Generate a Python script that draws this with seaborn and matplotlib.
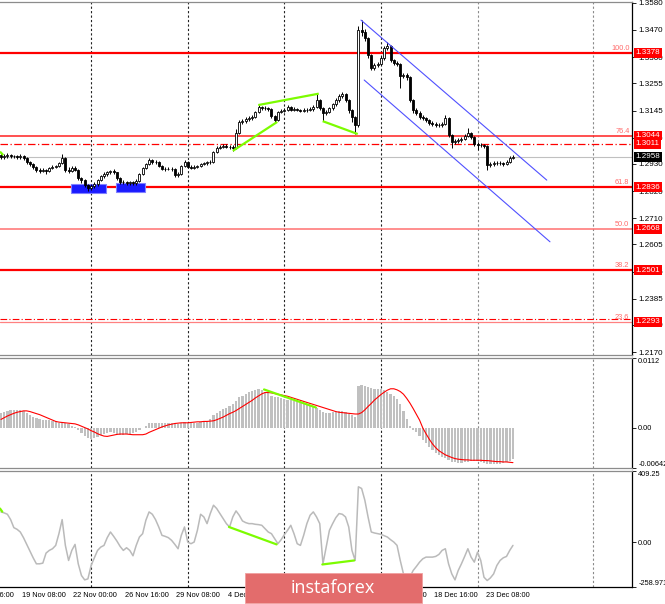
import numpy as np
import seaborn as sns
import matplotlib.pyplot as plt
from matplotlib.patches import Rectangle
import matplotlib.transforms as mtransforms

# ---- values (H4 bars, index 0 = first visible bar) ----
first_open = 1.2965
closes = [
    1.2957, 1.2961, 1.2965, 1.2961, 1.2961, 1.2957, 1.2961, 1.2953, 1.2937, 1.2929,
    1.2917, 1.2905, 1.2901, 1.2905, 1.2901, 1.2913, 1.2917, 1.2921, 1.2933, 1.2953,
    1.2905, 1.2901, 1.2913, 1.2905, 1.2872, 1.2864, 1.2844, 1.2832, 1.2840, 1.2848,
    1.2864, 1.2880, 1.2888, 1.2896, 1.2901, 1.2896, 1.2872, 1.2856, 1.2856, 1.2852,
    1.2856, 1.2852, 1.2860, 1.2888, 1.2913, 1.2929, 1.2945, 1.2937, 1.2937, 1.2921,
    1.2909, 1.2909, 1.2909, 1.2909, 1.2884, 1.2888, 1.2921, 1.2937, 1.2917, 1.2913,
    1.2917, 1.2921, 1.2929, 1.2933, 1.2937, 1.2937, 1.2977, 1.2994, 1.2998, 1.3002,
    1.2998, 1.2998, 1.2994, 1.3054, 1.3098, 1.3102, 1.3110, 1.3114, 1.3119, 1.3139,
    1.3159, 1.3155, 1.3155, 1.3151, 1.3123, 1.3106, 1.3139, 1.3143, 1.3147, 1.3159,
    1.3147, 1.3151, 1.3147, 1.3143, 1.3147, 1.3147, 1.3151, 1.3159, 1.3187, 1.3155,
    1.3135, 1.3139, 1.3155, 1.3171, 1.3187, 1.3203, 1.3211, 1.3187, 1.3147, 1.3119,
    1.3086, 1.3470, 1.3462, 1.3437, 1.3369, 1.3316, 1.3328, 1.3332, 1.3357, 1.3397,
    1.3405, 1.3349, 1.3336, 1.3332, 1.3284, 1.3288, 1.3280, 1.3187, 1.3147, 1.3135,
    1.3119, 1.3114, 1.3106, 1.3094, 1.3090, 1.3086, 1.3086, 1.3090, 1.3114, 1.3046,
    1.3018, 1.3022, 1.3026, 1.3030, 1.3042, 1.3054, 1.3038, 1.3010, 1.3006, 1.3006,
    1.3002, 1.2925, 1.2929, 1.2933, 1.2933, 1.2933, 1.2929, 1.2937, 1.2953, 1.2957]
highs = [
    1.2977, 1.2969, 1.2973, 1.2971, 1.2967, 1.2965, 1.2969, 1.2965, 1.2957, 1.2941,
    1.2933, 1.2921, 1.2911, 1.2913, 1.2909, 1.2917, 1.2923, 1.2927, 1.2939, 1.2969,
    1.2957, 1.2915, 1.2919, 1.2919, 1.2909, 1.2878, 1.2868, 1.2850, 1.2848, 1.2856,
    1.2870, 1.2886, 1.2896, 1.2901, 1.2905, 1.2907, 1.2898, 1.2876, 1.2864, 1.2860,
    1.2862, 1.2860, 1.2868, 1.2892, 1.2917, 1.2935, 1.2953, 1.2949, 1.2945, 1.2941,
    1.2925, 1.2915, 1.2915, 1.2915, 1.2913, 1.2896, 1.2925, 1.2945, 1.2941, 1.2923,
    1.2923, 1.2927, 1.2933, 1.2939, 1.2943, 1.2945, 1.2981, 1.3002, 1.3006, 1.3010,
    1.3008, 1.3006, 1.3004, 1.3070, 1.3106, 1.3110, 1.3118, 1.3122, 1.3127, 1.3145,
    1.3167, 1.3163, 1.3163, 1.3161, 1.3155, 1.3127, 1.3143, 1.3151, 1.3155, 1.3167,
    1.3163, 1.3159, 1.3157, 1.3153, 1.3155, 1.3155, 1.3159, 1.3167, 1.3211, 1.3191,
    1.3159, 1.3147, 1.3161, 1.3177, 1.3195, 1.3211, 1.3219, 1.3215, 1.3191, 1.3151,
    1.3123, 1.3486, 1.3510, 1.3474, 1.3441, 1.3373, 1.3336, 1.3340, 1.3365, 1.3405,
    1.3421, 1.3409, 1.3353, 1.3344, 1.3336, 1.3296, 1.3296, 1.3284, 1.3191, 1.3155,
    1.3143, 1.3127, 1.3119, 1.3110, 1.3102, 1.3098, 1.3094, 1.3098, 1.3127, 1.3118,
    1.3050, 1.3030, 1.3034, 1.3038, 1.3050, 1.3074, 1.3058, 1.3042, 1.3018, 1.3014,
    1.3010, 1.3006, 1.2937, 1.2941, 1.2941, 1.2941, 1.2937, 1.2945, 1.2961, 1.2965]
lows = [
    1.2949, 1.2949, 1.2955, 1.2955, 1.2953, 1.2949, 1.2951, 1.2945, 1.2929, 1.2921,
    1.2909, 1.2897, 1.2893, 1.2895, 1.2889, 1.2897, 1.2907, 1.2911, 1.2915, 1.2929,
    1.2897, 1.2893, 1.2895, 1.2899, 1.2866, 1.2852, 1.2836, 1.2822, 1.2826, 1.2834,
    1.2842, 1.2860, 1.2874, 1.2882, 1.2890, 1.2888, 1.2866, 1.2850, 1.2848, 1.2844,
    1.2846, 1.2844, 1.2846, 1.2856, 1.2884, 1.2907, 1.2925, 1.2931, 1.2929, 1.2915,
    1.2903, 1.2901, 1.2903, 1.2901, 1.2878, 1.2878, 1.2884, 1.2917, 1.2911, 1.2907,
    1.2909, 1.2911, 1.2915, 1.2923, 1.2927, 1.2931, 1.2933, 1.2973, 1.2990, 1.2994,
    1.2992, 1.2990, 1.2982, 1.2990, 1.3050, 1.3090, 1.3096, 1.3104, 1.3108, 1.3114,
    1.3135, 1.3147, 1.3149, 1.3143, 1.3114, 1.3098, 1.3102, 1.3133, 1.3139, 1.3141,
    1.3141, 1.3143, 1.3141, 1.3137, 1.3139, 1.3139, 1.3141, 1.3145, 1.3155, 1.3147,
    1.3102, 1.3125, 1.3133, 1.3149, 1.3165, 1.3181, 1.3195, 1.3181, 1.3135, 1.3098,
    1.3050, 1.3078, 1.3445, 1.3425, 1.3357, 1.3308, 1.3308, 1.3320, 1.3328, 1.3349,
    1.3389, 1.3340, 1.3328, 1.3324, 1.3235, 1.3276, 1.3268, 1.3179, 1.3135, 1.3127,
    1.3110, 1.3106, 1.3098, 1.3086, 1.3082, 1.3078, 1.3080, 1.3080, 1.3086, 1.3038,
    1.2994, 1.3010, 1.3014, 1.3018, 1.3026, 1.3038, 1.3030, 1.3002, 1.2985, 1.2998,
    1.2994, 1.2905, 1.2917, 1.2921, 1.2925, 1.2925, 1.2921, 1.2925, 1.2933, 1.2949]

# MACD histogram and signal, in pips (1e-4)
macd_hist_pips = [
    24.5, 26.2, 27.3, 28.3, 28.3, 28.3, 28.3, 27.3, 24.5, 20.2,
    18.0, 15.8, 13.6, 12.5, 12.5, 12.0, 11.4, 10.4, 8.2, 9.3,
    7.1, 5.5, 3.8, 1.6, -2.7, -8.2, -13.6, -16.9, -18.0, -16.9,
    -14.7, -11.4, -9.3, -8.2, -7.1, -8.2, -10.4, -11.4, -10.9, -10.4,
    -9.3, -8.2, -7.1, -2.7, 0.3, 3.8, 7.1, 8.2, 8.2, 7.6,
    7.1, 7.1, 7.6, 8.2, 6.5, 6.5, 8.2, 9.3, 8.2, 8.2,
    8.2, 8.2, 9.3, 9.8, 10.4, 14.7, 20.2, 24.5, 27.3, 30.0,
    32.7, 35.4, 37.6, 43.6, 49.1, 51.8, 54.5, 57.2, 58.9, 60.5,
    61.6, 60.0, 58.3, 56.1, 51.8, 49.1, 49.1, 48.0, 46.3, 45.2,
    44.1, 43.1, 40.9, 39.8, 38.2, 36.5, 35.4, 33.2, 32.7, 28.9,
    26.2, 24.5, 24.5, 25.1, 25.6, 26.7, 27.3, 25.6, 22.9, 20.2,
    18.0, 67.0, 68.1, 67.0, 65.4, 63.8, 62.7, 62.7, 61.6, 60.0,
    58.3, 54.5, 50.7, 46.3, 38.2, 27.3, 14.7, 2.7, -2.7, -7.1,
    -12.5, -19.1, -24.5, -30.0, -35.4, -39.8, -43.6, -46.3, -47.4, -50.7,
    -54.0, -55.0, -56.1, -56.1, -55.0, -54.0, -53.4, -52.9, -53.4, -54.5,
    -55.6, -57.2, -58.3, -58.3, -58.3, -57.2, -56.1, -54.5, -52.9, -49.1]
macd_signal_pips = [
    13.6, 16.4, 19.1, 21.3, 23.4, 25.1, 26.2, 27.3, 27.3, 26.2,
    24.5, 22.9, 21.3, 19.1, 16.9, 14.7, 12.5, 10.4, 9.3, 8.7,
    8.2, 7.6, 7.1, 6.5, 4.9, 2.7, 0.5, -1.6, -4.4, -6.5,
    -9.3, -11.4, -13.1, -13.6, -12.5, -11.4, -10.4, -9.8, -9.8, -9.8,
    -10.4, -10.9, -10.9, -10.9, -10.9, -9.8, -7.1, -4.9, -2.7, -0.5,
    1.6, 3.3, 4.9, 6.0, 7.1, 7.6, 8.2, 8.2, 8.2, 8.7,
    9.3, 9.8, 9.8, 10.4, 10.4, 10.9, 11.4, 13.1, 15.3, 17.4,
    20.2, 22.9, 25.1, 27.8, 31.1, 34.3, 37.6, 40.9, 44.1, 48.0,
    51.2, 54.5, 56.7, 56.7, 56.1, 55.0, 54.0, 52.9, 51.8, 50.7,
    49.1, 47.4, 45.8, 44.1, 42.5, 40.9, 39.2, 37.6, 36.0, 34.3,
    32.7, 31.1, 29.4, 27.8, 26.2, 25.1, 24.5, 24.0, 23.4, 22.9,
    22.3, 22.3, 24.5, 28.9, 34.3, 39.2, 44.7, 49.1, 53.4, 57.2,
    60.5, 62.7, 62.7, 61.0, 58.3, 54.0, 47.4, 39.8, 31.1, 21.8,
    12.5, 0.0, -9.3, -18.0, -25.6, -31.6, -36.5, -39.8, -43.1, -45.2,
    -47.4, -49.1, -50.1, -50.7, -51.2, -51.2, -51.8, -51.8, -51.8, -51.8,
    -52.3, -52.3, -52.9, -53.4, -54.0, -54.0, -54.5, -54.5, -55.0, -55.6]

cci = [
    173.6, 167.8, 160.1, 129.2, 82.9, 73.3, 57.9, 25.1, -13.5, -52.1,
    -90.7, -125.4, -125.4, -121.5, -63.7, -48.2, -38.6, -19.3, 48.2, 129.2,
    -19.3, -106.1, -48.2, -13.5, -125.4, -192.9, -218.0, -212.2, -135.0, -90.7,
    -48.2, -28.9, -19.3, 25.1, 57.9, 32.8, 5.8, -25.1, -48.2, -32.8,
    -48.2, -79.1, -19.3, 28.9, 48.2, 125.4, 173.6, 160.1, 129.2, 86.8,
    38.6, 32.8, 25.1, 9.6, -13.5, -38.6, 38.6, 86.8, 0.0, -9.6,
    0.0, 67.5, 160.1, 144.7, 106.1, 164.0, 212.2, 192.9, 164.0, 135.0,
    106.1, 86.8, 144.7, 179.4, 154.3, 121.5, 111.9, 106.1, 106.1, 102.2,
    100.3, 96.5, 77.2, 57.9, 48.2, 19.3, -9.6, 13.5, 42.4, 67.5,
    96.5, 48.2, -9.6, -19.3, 38.6, 106.1, 154.3, 173.6, 144.7, 106.1,
    -125.4, -28.9, 67.5, 106.1, 140.8, 164.0, 160.1, 144.7, 86.8, -48.2,
    -106.1, 318.3, 308.6, 241.1, 144.7, 57.9, 52.1, 48.2, 44.4, 36.7,
    28.9, 13.5, 0.0, -19.3, -106.1, -183.3, -221.8, -202.5, -164.0, -140.8,
    -115.7, -96.5, -86.8, -86.8, -86.8, -82.9, -71.4, -48.2, -38.6, -125.4,
    -183.3, -218.0, -164.0, -125.4, -82.9, -38.6, -86.8, -115.7, -57.9, -106.1,
    -202.5, -221.8, -206.4, -183.3, -135.0, -106.1, -90.7, -82.9, -48.2, -19.3]

date_ticks = [-10, 6, 22, 38, 54, 70, 86, 102, 118, 134, 150]
date_labels = ["14 Nov 16:00", "19 Nov 08:00", "22 Nov 00:00", "26 Nov 16:00",
               "29 Nov 08:00", "4 Dec 00:00", "6 Dec 16:00", "11 Dec 08:00",
               "16 Dec 00:00", "18 Dec 16:00", "23 Dec 08:00"]
week_lines = [28, 58, 88, 118, 148, 184]

price_ticks = [1.2170, 1.2280, 1.2385, 1.2495, 1.2605, 1.2710, 1.2820,
               1.2930, 1.3035, 1.3145, 1.3255, 1.3360, 1.3470, 1.3580]
fib_levels = [1.3378, 1.3044, 1.2836, 1.2668, 1.2501, 1.2293]
fib_names = ["100.0", "76.4", "61.8", "50.0", "38.2", "23.6"]
pivot_level = 1.3011
aux_level = 1.2302
last_price = 1.2958

# drawn objects: (bar index, value) pairs
channel_upper = [(111.8, 1.3510), (169.5, 1.2864)]
channel_lower = [(112.8, 1.3268), (170.5, 1.2615)]
price_div = [[(-0.3, 1.2979), (0.7, 1.2965)],
             [(72.0, 1.2982), (85.8, 1.3099)],
             [(79.9, 1.3167), (98.7, 1.3213)],
             [(99.9, 1.3102), (110.8, 1.3050)]]
macd_div = [[(81.7, 0.00616), (97.8, 0.00327)]]
cci_div = [[(-0.3, 193.0), (0.4, 175.0)],
           [(70.8, 86.8), (85.6, -13.5)],
           [(99.8, -129.2), (109.7, -106.1)]]
support_boxes = [(21.8, 32.6, 1.2813, 1.2848), (35.7, 44.7, 1.2814, 1.2851)]

# ---- figure ----
sns.set_style("white")
plt.rcParams['font.family'] = ['Liberation Sans', 'DejaVu Sans']

W, H = 665, 604
fig = plt.figure(figsize=(W / 100, H / 100), dpi=100)


def px_rect(x0, y0, x1, y1):
    return [x0 / W, 1 - y1 / H, (x1 - x0) / W, (y1 - y0) / H]


ax_p = fig.add_axes(px_rect(0, 2, 632, 355))
ax_m = fig.add_axes(px_rect(0, 358, 632, 468))
ax_c = fig.add_axes(px_rect(0, 471, 632, 587))

idx = np.arange(len(closes))
c = np.array(closes)
o = np.r_[first_open, c[:-1]]
h = np.array(highs)
l = np.array(lows)
up = c >= o

for ax in [ax_p, ax_m, ax_c]:
    ax.set_xlim(-0.3, 195.97)
    ax.set_facecolor('white')
    ax.yaxis.tick_right()
    ax.tick_params(axis='y', labelsize=5.8, length=3, width=0.6, pad=1.5, colors='black')
    ax.spines['left'].set_visible(False)
    ax.spines['right'].set_color('black')
    ax.spines['right'].set_linewidth(0.9)
    for s in ['top', 'bottom']:
        ax.spines[s].set_color('#8c8c8c')
        ax.spines[s].set_linewidth(0.9)
    for j, w in enumerate(week_lines):
        ax.axvline(w, color='#222222' if j < 4 else '#8a8a8a', lw=0.8,
                   ls=(0, (2, 2)), zorder=1)
ax_c.spines['bottom'].set_color('black')

# ---- price panel ----
ax_p.set_ylim(1.2158, 1.3583)
ax_p.set_yticks(price_ticks)
ax_p.set_yticklabels([f"{v:.4f}" for v in price_ticks])
ax_p.set_xticks([])

for (x0, x1, y0, y1) in support_boxes:
    ax_p.add_patch(Rectangle((x0, y0), x1 - x0, y1 - y0, facecolor='#1a1aff',
                             edgecolor='#8080ff', lw=0.8, zorder=2))

fib_w = [1.6, 1.1, 1.6, 1.1, 1.6, 0.9]
fib_c = ['#ff0000', '#ff2020', '#ff0000', '#ff7070', '#ff0000', '#ff8080']
ytr = ax_p.get_yaxis_transform()
for lvl, name, lw, col in zip(fib_levels, fib_names, fib_w, fib_c):
    ax_p.axhline(lvl, color=col, lw=lw, zorder=1.5)
    ax_p.text(0.996, lvl + 0.0003, name, transform=ytr, ha='right', va='bottom',
              fontsize=5.3, color='#ff6a6a', zorder=5)
ax_p.axhline(pivot_level, color='#ff0000', lw=0.9, ls=(0, (6, 2, 1, 2)), zorder=1.5)
ax_p.axhline(aux_level, color='#ff0000', lw=0.8, ls=(0, (6, 2, 1, 2)), zorder=1.5)
ax_p.axhline(last_price, color='#c0c0c0', lw=0.8, zorder=1.4)


def price_tag(value, fc):
    ax_p.text(1.006, value, f"{value:.4f}", transform=ytr, ha='left', va='center',
              fontsize=5.8, color='white', clip_on=False, zorder=8,
              bbox=dict(boxstyle='square,pad=0.18', fc=fc, ec='none'))


for lvl in fib_levels + [pivot_level]:
    price_tag(lvl, '#ff0000')
price_tag(last_price, '#000000')

# candles
ax_p.vlines(idx, l, h, color='black', lw=0.7, zorder=3)
ax_p.bar(idx[up], (c - o)[up], bottom=o[up], width=0.62, color='white',
         edgecolor='black', lw=0.6, zorder=4)
ax_p.bar(idx[~up], (o - c)[~up], bottom=c[~up], width=0.62, color='black',
         edgecolor='black', lw=0.6, zorder=4)

for seg in [channel_upper, channel_lower]:
    xs, ys = zip(*seg)
    ax_p.plot(xs, ys, color='#5050ff', lw=0.8, zorder=5)
for seg in price_div:
    xs, ys = zip(*seg)
    ax_p.plot(xs, ys, color='#7cfc00', lw=1.6, zorder=6, solid_capstyle='butt')

# ---- MACD panel ----
hist = np.array(macd_hist_pips) * 1e-4
signal = np.array(macd_signal_pips) * 1e-4
ax_m.bar(idx, hist, width=0.7, color='#c0c0c0', linewidth=0, antialiased=False, zorder=2)
sns.lineplot(x=idx, y=signal, ax=ax_m, color='#ff0000', linewidth=0.8, zorder=3)
for seg in macd_div:
    xs, ys = zip(*seg)
    ax_m.plot(xs, ys, color='#7cfc00', lw=1.6, zorder=4)
ax_m.set_ylim(-0.00642, 0.0112)
ax_m.set_yticks([-0.00642, 0.0, 0.0112])
ax_m.set_yticklabels(['-0.00642', '0.00', '0.0112'])
ax_m.set_xticks([])
ax_m.set_xlabel('')
ax_m.set_ylabel('')

# ---- CCI panel ----
sns.lineplot(x=idx, y=np.array(cci), ax=ax_c, color='#bababa', linewidth=1.1, zorder=3)
for seg in cci_div:
    xs, ys = zip(*seg)
    ax_c.plot(xs, ys, color='#7cfc00', lw=1.6, zorder=4)
ax_c.set_ylim(-258.971, 409.25)
ax_c.set_yticks([-258.971, 0.0, 409.25])
ax_c.set_yticklabels(['-258.971', '0.00', '409.25'])
ax_c.set_xlabel('')
ax_c.set_ylabel('')

for ax in [ax_m, ax_c]:
    ax.tick_params(axis='y', labelsize=5.3)
    labs = ax.get_yticklabels()
    labs[0].set_va('bottom')
    labs[-1].set_va('top')

ax_c.set_xticks([t for t in date_ticks if t > -0.3])
ax_c.set_xticklabels([])
ax_c.tick_params(axis='x', length=3, width=0.6, direction='out', colors='black')
btr = mtransforms.blended_transform_factory(ax_c.transData, ax_c.transAxes)
for t, lab in zip(date_ticks, date_labels):
    ax_c.text(t + 0.5, -0.075, lab, transform=btr, ha='left', va='center',
              fontsize=5.3, color='black', clip_on=False)

# watermark
fig.add_artist(Rectangle((245 / W, 1 - 603 / H), 177 / W, 30 / H,
                         transform=fig.transFigure, facecolor='#e36c6c',
                         edgecolor='#f0a0a0', lw=0.6, zorder=20))
fig.text(333 / W, 1 - 588 / H, "instaforex", ha='center', va='center',
         fontsize=13, color='white', family=['Open Sans', 'DejaVu Sans'], zorder=21)

fig.savefig('out.png', dpi=100)
